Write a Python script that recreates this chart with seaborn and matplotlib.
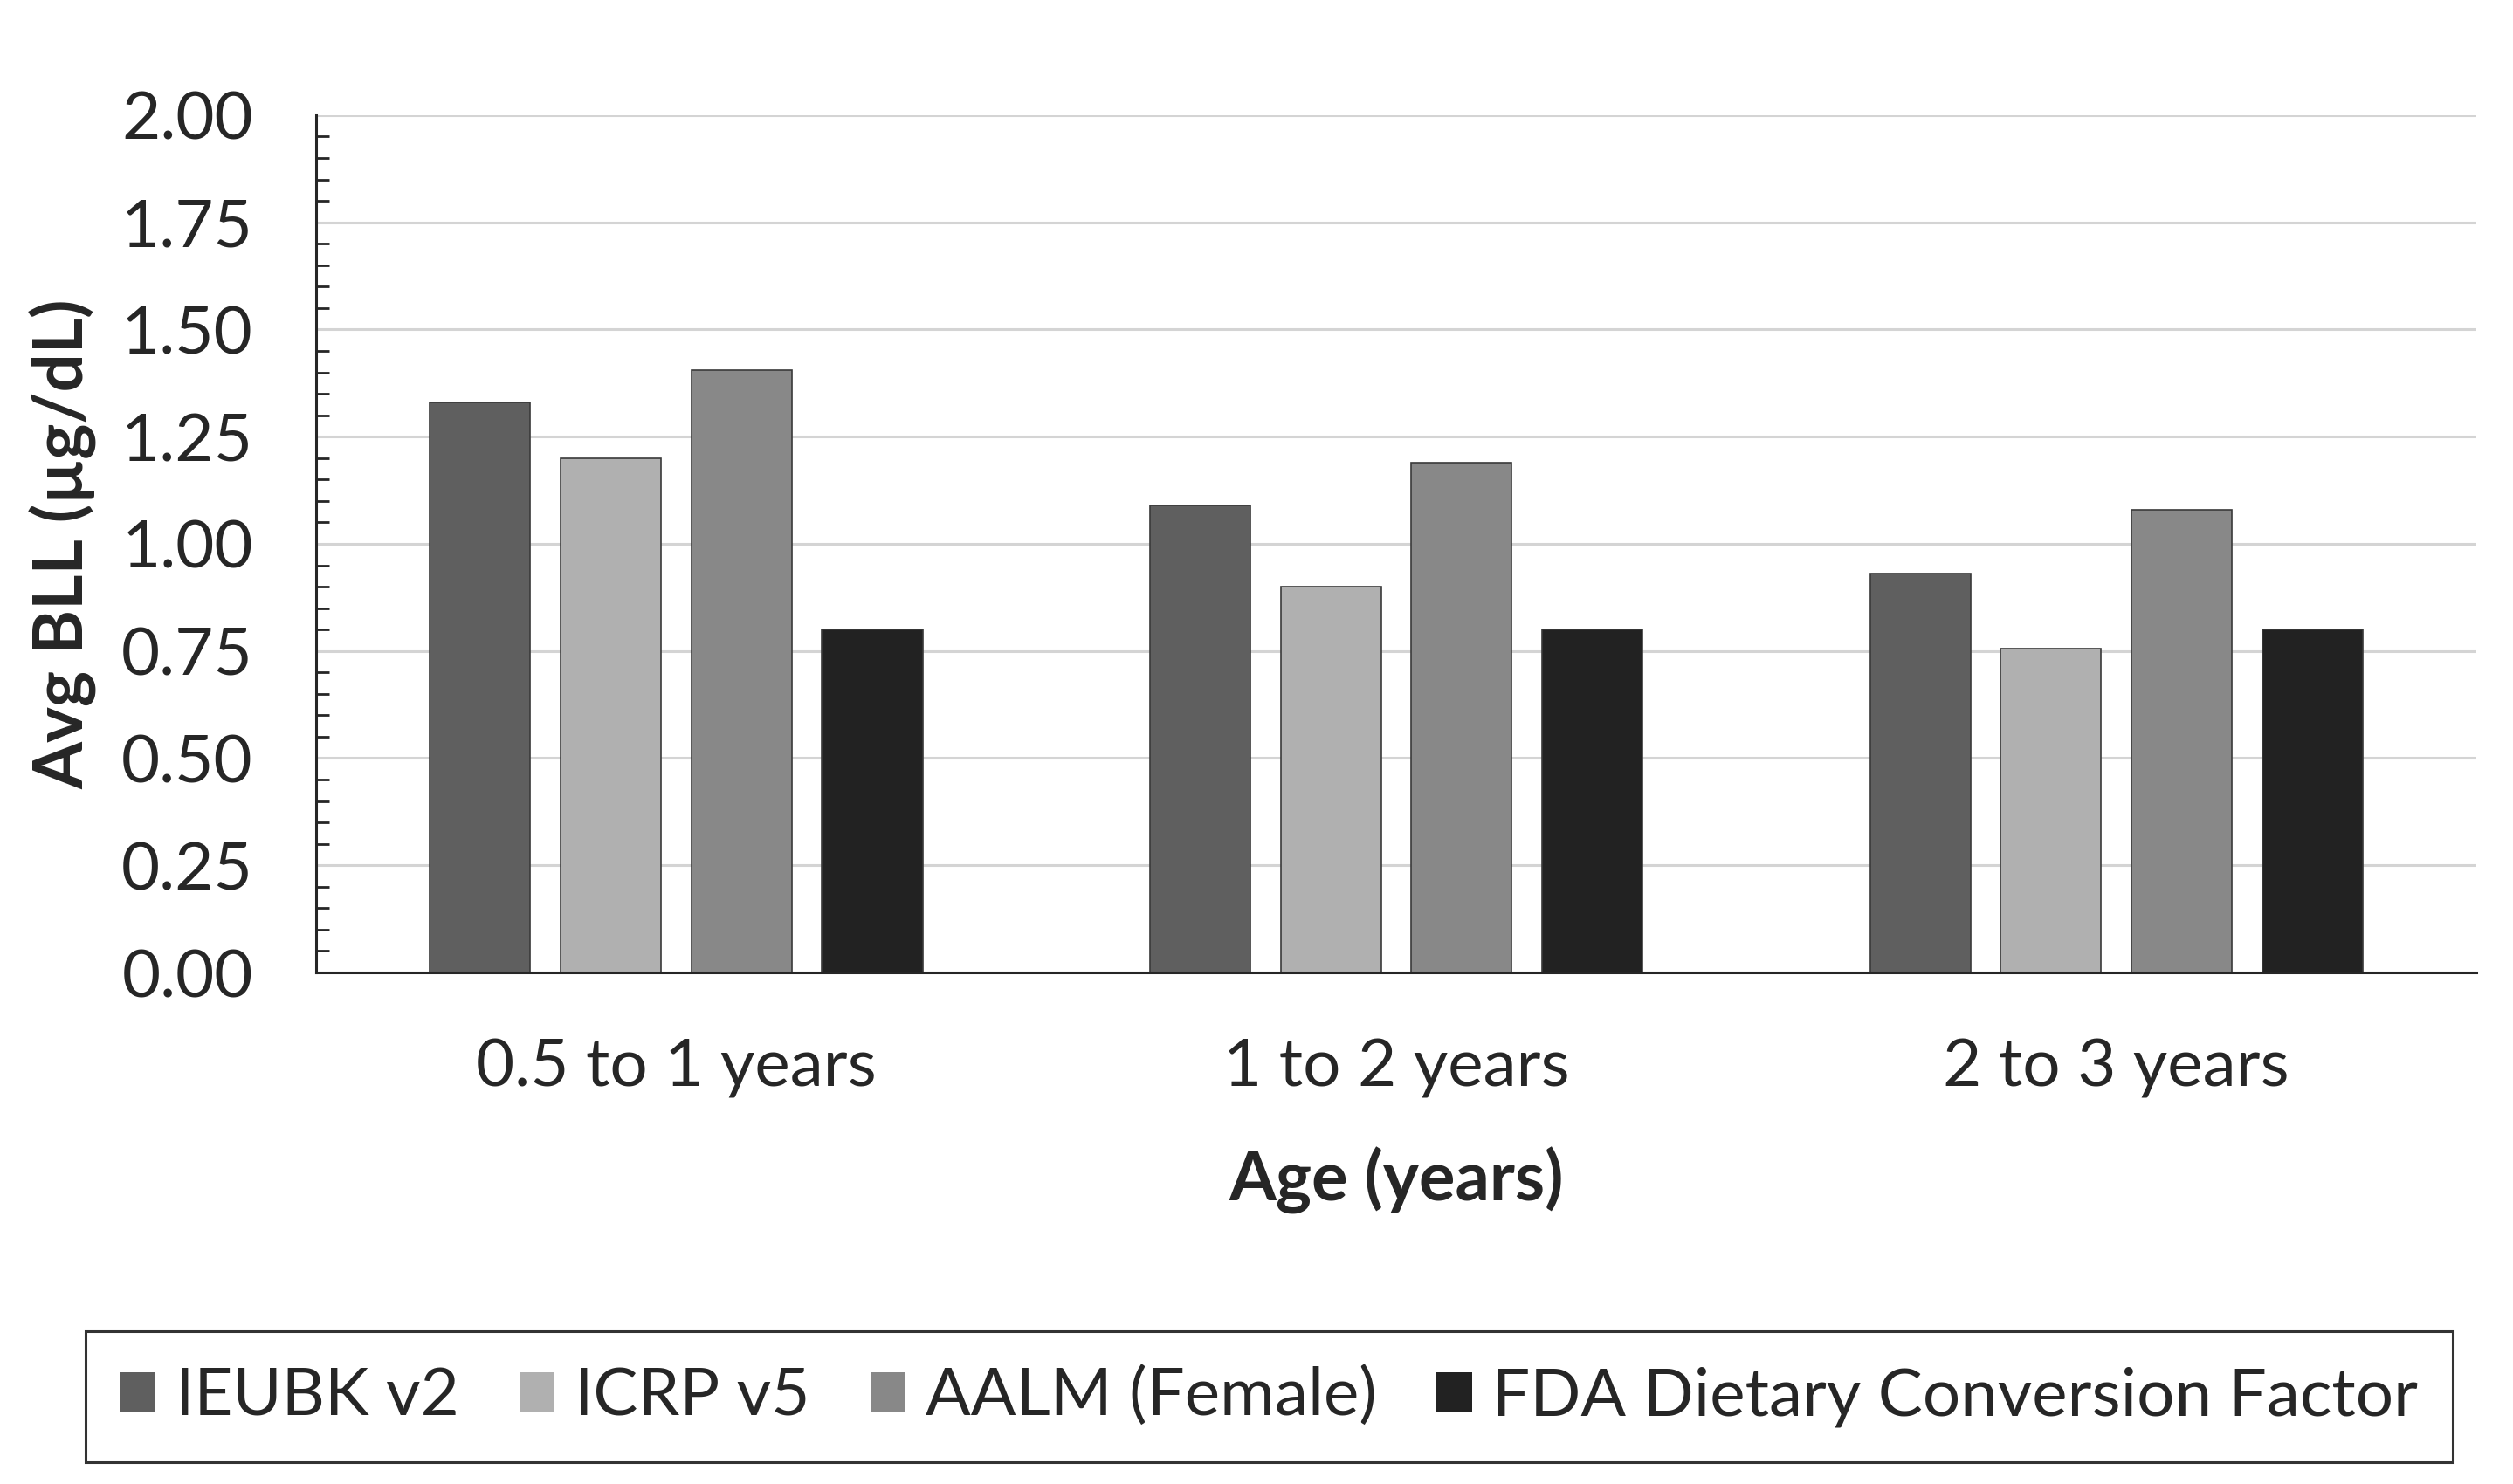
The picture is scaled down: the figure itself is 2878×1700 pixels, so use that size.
import pandas as pd
import matplotlib.pyplot as plt
import seaborn as sns
from matplotlib.ticker import MultipleLocator

# data
ages = ["0.5 to 1 years", "1 to 2 years", "2 to 3 years"]
models = ["IEUBK v2", "ICRP v5", "AALM (Female)", "FDA Dietary Conversion Factor"]
ieubk = [1.33, 1.09, 0.93]
icrp = [1.20, 0.90, 0.755]
aalm = [1.405, 1.19, 1.08]
fda = [0.80, 0.80, 0.80]
colors = ["#5f5f5f", "#b0b0b0", "#888888", "#222222"]

rows = []
for m, vals in zip(models, [ieubk, icrp, aalm, fda]):
    for a, v in zip(ages, vals):
        rows.append({"Age": a, "Model": m, "BLL": v})
df = pd.DataFrame(rows)

sns.set_style("white")
plt.rcParams['font.family'] = ['Lato', 'DejaVu Sans']

fig = plt.figure(figsize=(14.39, 8.5), dpi=200)
ax = fig.add_axes([0.1258, 0.3447, 0.8596, 0.5777])

sns.barplot(data=df, x="Age", y="BLL", hue="Model", hue_order=models,
            palette=colors, width=0.726, gap=0.23, ax=ax, legend=False,
            edgecolor="#3a3a3a", linewidth=0.6, saturation=1)

ax.set_ylim(0, 2.0)
ax.set_xlim(-0.5, 2.5)
ax.yaxis.set_major_locator(MultipleLocator(0.25))
ax.yaxis.set_minor_locator(MultipleLocator(0.05))
ax.yaxis.set_major_formatter(plt.FormatStrFormatter('%.2f'))
ax.grid(axis='y', which='major', color='#d4d4d4', linewidth=1.1)
ax.set_axisbelow(True)

for s in ['top', 'right']:
    ax.spines[s].set_visible(False)
for s in ['left', 'bottom']:
    ax.spines[s].set_color('#262626')
    ax.spines[s].set_linewidth(1.1)

ax.tick_params(axis='y', which='major', direction='in', length=7.6, width=1.0,
               color='#262626', labelsize=27.5, pad=26)
ax.tick_params(axis='y', which='minor', direction='in', length=5.4, width=1.0,
               color='#262626', left=True)
ax.tick_params(axis='x', length=0, labelsize=27.5, pad=27)

ax.set_ylabel("Avg BLL (µg/dL)", fontsize=28, fontweight='bold', labelpad=10)
ax.set_xlabel("Age (years)", fontsize=28, fontweight='bold', labelpad=20)

handles = [plt.Rectangle((0, 0), 1, 1, facecolor=c, edgecolor='none') for c in colors]
leg = fig.legend(handles, models, loc='center', bbox_to_anchor=(0.505, 0.059),
                 ncol=4, fontsize=27.5, frameon=True, fancybox=False,
                 handlelength=0.53, handleheight=0.53, handletextpad=0.3,
                 columnspacing=0.9, borderpad=0.52, borderaxespad=0)
leg.get_frame().set_edgecolor('black')
leg.get_frame().set_linewidth(1.1)

fig.savefig("out.png", dpi=200)
